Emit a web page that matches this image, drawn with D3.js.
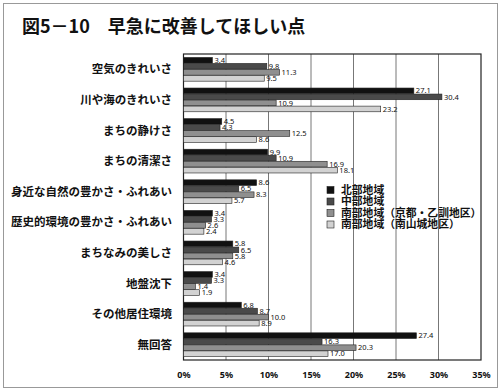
<!DOCTYPE html>
<html><head><meta charset="utf-8">
<script src="https://cdn.jsdelivr.net/npm/d3@7"></script>
<style>body{margin:0;background:#fff;} text{font-family:"Noto Sans CJK JP","Noto Sans",sans-serif;}</style>
</head><body><svg id="c" width="500" height="390"></svg>
<script>
const categories = ["空気のきれいさ","川や海のきれいさ","まちの静けさ","まちの清潔さ","身近な自然の豊かさ・ふれあい","歴史的環境の豊かさ・ふれあい","まちなみの美しさ","地盤沈下","その他居住環境","無回答"];
const seriesNames = ["北部地域","中部地域","南部地域（京都・乙訓地区）","南部地域（南山城地区）"];
const north   = [3.4, 27.1, 4.5, 9.9, 8.6, 3.4, 5.8, 3.4, 6.8, 27.4];
const central = [9.8, 30.4, 4.3, 10.9, 6.5, 3.3, 6.5, 3.3, 8.7, 16.3];
const southK  = [11.3, 10.9, 12.5, 16.9, 8.3, 2.6, 5.8, 1.4, 10.0, 20.3];
const southY  = [9.5, 23.2, 8.6, 18.1, 5.7, 2.4, 4.6, 1.9, 8.9, 17.0];
const xTicks = [0,5,10,15,20,25,30,35];
const seriesData = [north, central, southK, southY];
const fills = ["#111111","#4a4a4a","#8f8f8f","#d2d2d2"];

const svg = d3.select("#c");
svg.append("rect").attr("x",3.5).attr("y",3.5).attr("width",494).attr("height",384)
  .attr("fill","none").attr("stroke","#999");
svg.append("text").attr("x",22).attr("y",33).attr("font-size",18).attr("font-weight","bold")
  .attr("fill","#111").text("図5－10　早急に改善してほしい点");

const L=183.5, R=481, T=54, B=360;
const x = d3.scaleLinear().domain([0,35]).range([L,R]);
const y = d3.scaleBand().domain(categories).range([T,B]).paddingInner(0.2).paddingOuter(0.1);
const yi = d3.scaleBand().domain(d3.range(4)).range([0,y.bandwidth()]).padding(0.06);

const g = svg.append("g");
g.selectAll("line.grid").data(xTicks.slice(1,-1)).join("line")
  .attr("x1",d=>x(d)).attr("x2",d=>x(d)).attr("y1",T).attr("y2",B)
  .attr("stroke","#777").attr("stroke-width",1);
g.append("rect").attr("x",L).attr("y",T).attr("width",R-L).attr("height",B-T)
  .attr("fill","none").attr("stroke","#222").attr("stroke-width",1.2);

const ax = svg.append("g").attr("transform",`translate(0,${B})`)
  .call(d3.axisBottom(x).tickValues(xTicks).tickSize(0).tickPadding(12).tickFormat(d=>d+"%"));
ax.select(".domain").remove();
ax.selectAll("text").attr("font-size",9).attr("font-weight","bold").attr("fill","#111")
  .style("font-family","'Noto Sans',sans-serif");

svg.append("g").selectAll("text").data(categories).join("text")
  .attr("x",172).attr("y",d=>y(d)+y.bandwidth()/2).attr("dy","0.35em")
  .attr("text-anchor","end").attr("font-size",11.5).attr("font-weight","bold").attr("fill","#111")
  .text(d=>d);

seriesData.forEach((arr,si)=>{
  const gs = svg.append("g");
  gs.selectAll("rect").data(arr).join("rect")
    .attr("x",x(0)).attr("y",(d,i)=>y(categories[i])+yi(si))
    .attr("width",d=>x(d)-x(0)).attr("height",yi.bandwidth())
    .attr("fill",fills[si]).attr("stroke","#222").attr("stroke-width",0.6);
  gs.selectAll("text").data(arr).join("text")
    .attr("x",d=>x(d)+2).attr("y",(d,i)=>y(categories[i])+yi(si)+yi.bandwidth()/2).attr("dy","0.35em")
    .attr("font-size",7.5).attr("fill","#111").style("font-family","'Noto Sans',sans-serif")
    .text(d=>d.toFixed(1));
});

const lg = svg.append("g");
seriesNames.forEach((n,i)=>{
  const yy = 190 + i*11.5;
  lg.append("rect").attr("x",327).attr("y",yy-3.5).attr("width",7).attr("height",7)
    .attr("fill",fills[i]).attr("stroke","#222").attr("stroke-width",0.6);
  lg.append("text").attr("x",341).attr("y",yy).attr("dy","0.35em").attr("font-size",10.8)
    .attr("font-weight","bold").attr("fill","#111").text(n);
});
</script></body></html>
